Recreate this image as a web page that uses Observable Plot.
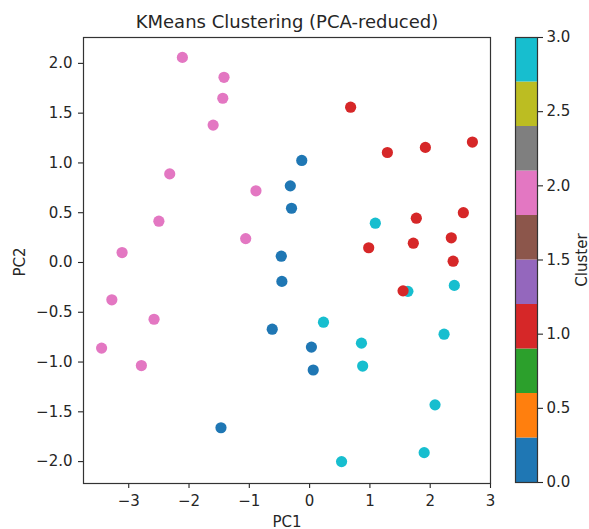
<!DOCTYPE html>
<html>
<head>
<meta charset="utf-8">
<script src="https://cdn.jsdelivr.net/npm/d3@7"></script>
<script src="https://cdn.jsdelivr.net/npm/@observablehq/plot@0.6"></script>
<style>
  html, body { margin: 0; padding: 0; background: #fff; }
  #wrap { position: relative; width: 589px; height: 529px; overflow: hidden; font-family: "DejaVu Sans", sans-serif; color: #262626; }
  #wrap svg { position: absolute; top: 0; }
  .lbl { position: absolute; white-space: nowrap; line-height: 1; color: #262626; }
</style>
</head>
<body>
<div id="wrap"></div>
<script>
// Data
const pc1 = [
  -2.11, -1.42, -1.44, -1.60, -2.32, -2.50, -3.11, -3.28, -2.58, -3.45, -2.79, -0.89, -1.06,
  -0.13, -0.32, -0.30, -0.47, -0.46, -0.62, 0.03, 0.06, -1.47,
  1.09, 1.63, 2.40, 0.23, 2.23, 0.86, 0.88, 2.08, 1.90, 0.53,
  0.68, 1.29, 1.92, 2.70, 1.77, 2.55, 0.98, 1.72, 2.35, 2.38, 1.55
];
const pc2 = [
  2.06, 1.86, 1.65, 1.38, 0.89, 0.415, 0.10, -0.375, -0.57, -0.86, -1.035, 0.72, 0.24,
  1.025, 0.77, 0.545, 0.063, -0.19, -0.67, -0.85, -1.08, -1.66,
  0.395, -0.29, -0.23, -0.60, -0.72, -0.81, -1.04, -1.43, -1.91, -2.00,
  1.56, 1.105, 1.156, 1.21, 0.445, 0.50, 0.148, 0.194, 0.248, 0.013, -0.285
];
const cluster = [
  2, 2, 2, 2, 2, 2, 2, 2, 2, 2, 2, 2, 2,
  0, 0, 0, 0, 0, 0, 0, 0, 0,
  3, 3, 3, 3, 3, 3, 3, 3, 3, 3,
  1, 1, 1, 1, 1, 1, 1, 1, 1, 1, 1
];
const tab10 = ["#1f77b4", "#ff7f0e", "#2ca02c", "#d62728", "#9467bd",
               "#8c564b", "#e377c2", "#7f7f7f", "#bcbd22", "#17becf"];
const xTicks = [-3, -2, -1, 0, 1, 2, 3];
const yTicks = [-2.0, -1.5, -1.0, -0.5, 0.0, 0.5, 1.0, 1.5, 2.0];
const cbTicks = [0.0, 0.5, 1.0, 1.5, 2.0, 2.5, 3.0];
const clusterMin = 0, clusterMax = 3;
const titleText = "KMeans Clustering (PCA-reduced)";
const xLabel = "PC1", yLabel = "PC2", cbLabel = "Cluster";

const points = pc1.map((x, i) => ({pc1: x, pc2: pc2[i], cluster: cluster[i]}));
const fmt1 = d3.format(".1f");
const fmt0 = d3.format("d");

const wrap = document.getElementById("wrap");
const baseStyle = {fontFamily: "DejaVu Sans, sans-serif", fontSize: "15px", color: "#262626", background: "transparent", overflow: "visible"};

const main = Plot.plot({
  width: 500, height: 529,
  marginLeft: 83, marginRight: 10, marginTop: 37, marginBottom: 46,
  x: {domain: [-3.75, 3.0]},
  y: {domain: [-2.22, 2.26]},
  color: {type: "ordinal", domain: [0, 1, 2, 3], range: [tab10[0], tab10[3], tab10[6], tab10[9]]},
  style: baseStyle,
  marks: [
    Plot.axisX({ticks: xTicks, tickSize: 5, tickPadding: 7, tickFormat: fmt0, label: null, strokeWidth: 1.1}),
    Plot.axisY({ticks: yTicks, tickSize: 5, tickPadding: 6, tickFormat: fmt1, label: null, strokeWidth: 1.1}),
    Plot.dot(points, {x: "pc1", y: "pc2", r: 5.6, fill: "cluster", stroke: null}),
    Plot.frame({stroke: "#333", strokeWidth: 1.2})
  ]
});
main.style.left = "0px";
wrap.appendChild(main);

const cbIndex = d3.range(tab10.length);
const step = (clusterMax - clusterMin) / tab10.length;
const cbar = Plot.plot({
  width: 89, height: 529,
  marginLeft: 15, marginRight: 52, marginTop: 37, marginBottom: 47,
  x: {domain: [0, 1], axis: null},
  y: {domain: [clusterMin, clusterMax]},
  color: {type: "identity"},
  style: baseStyle,
  marks: [
    Plot.rect(cbIndex, {x1: 0, x2: 1, y1: i => clusterMin + i * step, y2: i => clusterMin + (i + 1) * step, fill: i => tab10[i]}),
    Plot.frame({stroke: "#333", strokeWidth: 1.2}),
    Plot.axisY({anchor: "right", ticks: cbTicks, tickSize: 5, tickPadding: 4, tickFormat: fmt1, label: null, strokeWidth: 1.1})
  ]
});
cbar.style.left = "500px";
wrap.appendChild(cbar);

function addLabel(text, x, y, size, rotate) {
  const d = document.createElement("div");
  d.className = "lbl";
  d.textContent = text;
  d.style.fontSize = size + "px";
  d.style.left = x + "px";
  d.style.top = y + "px";
  d.style.transform = "translate(-50%, -50%)" + (rotate ? " rotate(" + rotate + "deg)" : "");
  wrap.appendChild(d);
}
addLabel(titleText, 287, 22, 18, 0);
addLabel(xLabel, 287, 522, 15, 0);
addLabel(yLabel, 20, 262, 15, -90);
addLabel(cbLabel, 582, 260, 15, -90);
</script>
</body>
</html>
